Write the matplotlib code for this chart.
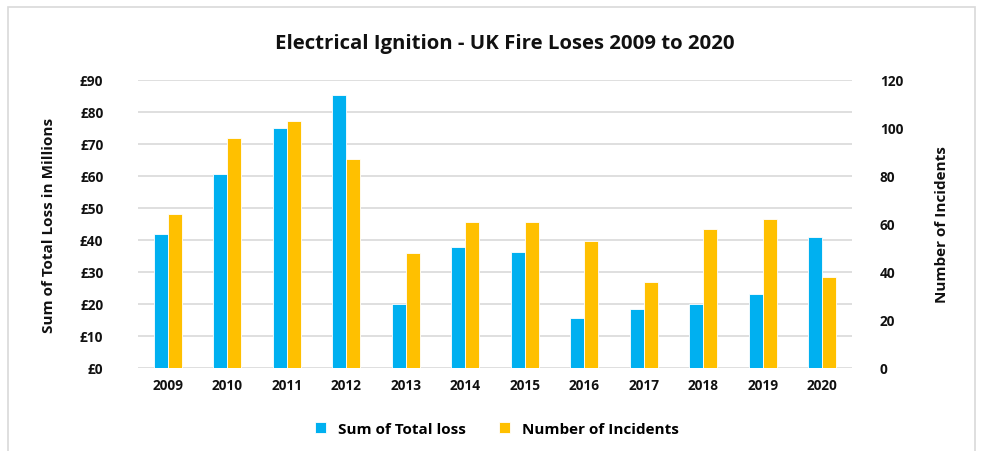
import numpy as np
import matplotlib.pyplot as plt
from matplotlib.ticker import FuncFormatter

plt.rcParams['font.family'] = ['Open Sans', 'DejaVu Sans']

years = ['2009', '2010', '2011', '2012', '2013', '2014',
         '2015', '2016', '2017', '2018', '2019', '2020']
total_loss = [42.0, 60.7, 75.1, 85.2, 19.9, 37.8, 36.1, 15.5, 18.3, 20.1, 23.2, 40.9]   # £ millions
incidents = [64, 96, 103, 87, 48, 61, 61, 53, 36, 58, 62, 38]

blue = '#00B0F0'
orange = '#FFC000'
grid_col = '#D9D9D9'
txt = '#111111'

fig = plt.figure(figsize=(9.88, 4.52), dpi=100)
# light grey frame round the chart area
fig.patches.append(plt.Rectangle((8/988, -0.05), 967/988, 1.05 - 8/452, transform=fig.transFigure,
                                 fill=False, edgecolor='#D9D9D9', linewidth=1.2))

ax = fig.add_axes([138/988, 1 - 369/452, 714/988, 288/452])
ax2 = ax.twinx()

x = np.arange(len(years))
w = 0.235
b1 = ax.bar(x - w/2, total_loss, w, color=blue, edgecolor='white', linewidth=0.6, zorder=3,
            label='Sum of Total loss')
b2 = ax2.bar(x + w/2, incidents, w, color=orange, edgecolor='white', linewidth=0.6, zorder=3,
             label='Number of Incidents')

ax.set_xlim(-0.5, len(years) - 0.5)
ax.set_ylim(0, 90)
ax.set_yticks(np.arange(0, 91, 10))
ax.yaxis.set_major_formatter(FuncFormatter(lambda v, p: '£%d' % v))
ax2.set_ylim(0, 120)
ax2.set_yticks(np.arange(0, 121, 20))

ax.grid(axis='y', color=grid_col, linewidth=1.2, zorder=0)
ax.set_axisbelow(True)
for a in (ax, ax2):
    for s in a.spines.values():
        s.set_visible(False)
    a.tick_params(length=0, labelsize=9.8, colors=txt)
    for lab in a.get_yticklabels():
        lab.set_fontweight('bold')

ax.tick_params(axis='y', pad=25)
ax2.tick_params(axis='y', pad=20)
ax.set_xticks(x)
ax.set_xticklabels(years, fontweight='bold', fontsize=9.8, color=txt)
ax.tick_params(axis='x', pad=7)

ax.set_ylabel('Sum of Total Loss in Millions', fontsize=11, fontweight='bold', color=txt, labelpad=17)
ax2.set_ylabel('Number of Incidents', fontsize=11, fontweight='bold', color=txt, labelpad=23)

fig.text(0.511, 1 - 44/452, 'Electrical Ignition - UK Fire Loses 2009 to 2020', ha='center', va='center',
         fontsize=14.7, fontweight='bold', color=txt)

fig.legend([b1, b2], ['Sum of Total loss', 'Number of Incidents'], loc='center',
           bbox_to_anchor=(0.503, 1 - 430/452), ncol=2, frameon=False, handlelength=0.7,
           handleheight=0.7, columnspacing=2.2, handletextpad=0.8,
           prop={'weight': 'bold', 'size': 11})

fig.savefig('out.png', dpi=100)
